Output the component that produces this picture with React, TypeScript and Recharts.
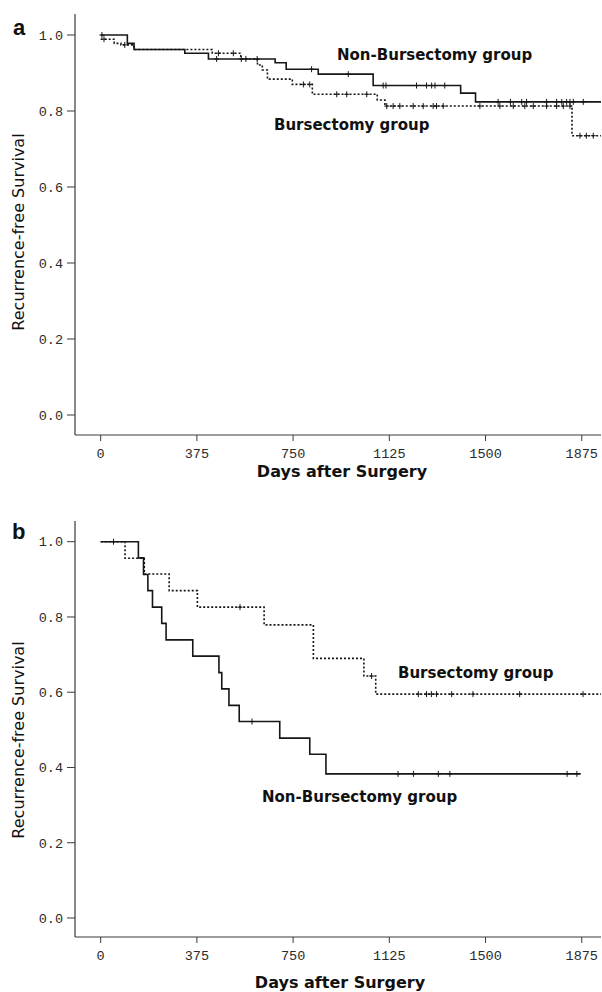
import React from 'react';
import { ComposedChart, Line, Scatter, XAxis, YAxis } from 'recharts';

// ---------- shared axis values ----------
const X_TICKS = [0, 375, 750, 1125, 1500, 1875];
const Y_TICKS = [0, 0.2, 0.4, 0.6, 0.8, 1.0];
const X_LABEL = 'Days after Surgery';
const Y_LABEL = 'Recurrence-free Survival';
const NON_NAME = 'Non-Bursectomy group';
const BUR_NAME = 'Bursectomy group';

// ---------- panel a ----------
const A_NON_DAYS = [0, 104, 130, 328, 420, 680, 723, 848, 1062, 1403, 1461, 1950];
const A_NON_SURV = [1.0, 0.978, 0.962, 0.952, 0.937, 0.927, 0.91, 0.897, 0.867, 0.847, 0.824, 0.824];
const A_NON_CENS_DAYS = [5, 452, 548, 610, 822, 965, 1101, 1112, 1231, 1270, 1290, 1303, 1341, 1549, 1597, 1641, 1660, 1738, 1777, 1797, 1816, 1829, 1842, 1881];
const A_NON_CENS_SURV = [1.0, 0.937, 0.937, 0.937, 0.91, 0.897, 0.867, 0.867, 0.867, 0.867, 0.867, 0.867, 0.867, 0.824, 0.824, 0.824, 0.824, 0.824, 0.824, 0.824, 0.824, 0.824, 0.824, 0.824];

const A_BUR_DAYS = [0, 53, 79, 130, 435, 546, 611, 630, 650, 747, 825, 1078, 1108, 1837, 1950];
const A_BUR_SURV = [0.989, 0.978, 0.974, 0.962, 0.952, 0.937, 0.921, 0.908, 0.884, 0.87, 0.844, 0.829, 0.813, 0.735, 0.735];
const A_BUR_CENS_DAYS = [13, 94, 459, 517, 566, 790, 815, 920, 959, 1037, 1115, 1140, 1166, 1218, 1257, 1296, 1309, 1335, 1478, 1556, 1608, 1653, 1686, 1738, 1777, 1803, 1829, 1868, 1893, 1920];
const A_BUR_CENS_SURV = [0.989, 0.974, 0.952, 0.952, 0.937, 0.87, 0.87, 0.844, 0.844, 0.844, 0.813, 0.813, 0.813, 0.813, 0.813, 0.813, 0.813, 0.813, 0.813, 0.813, 0.813, 0.813, 0.813, 0.813, 0.813, 0.813, 0.813, 0.735, 0.735, 0.735];

// ---------- panel b ----------
const B_NON_DAYS = [0, 147, 167, 184, 202, 238, 255, 359, 461, 472, 500, 540, 698, 815, 878, 1871];
const B_NON_SURV = [1.0, 0.957, 0.913, 0.87, 0.826, 0.783, 0.739, 0.696, 0.652, 0.609, 0.565, 0.522, 0.478, 0.435, 0.383, 0.383];
const B_NON_CENS_DAYS = [50, 590, 1159, 1219, 1316, 1361, 1818, 1856];
const B_NON_CENS_SURV = [1.0, 0.522, 0.383, 0.383, 0.383, 0.383, 0.383, 0.383];

const B_BUR_DAYS = [0, 95, 170, 267, 377, 637, 829, 1026, 1072, 1950];
const B_BUR_SURV = [1.0, 0.956, 0.914, 0.87, 0.826, 0.779, 0.69, 0.643, 0.595, 0.595];
const B_BUR_CENS_DAYS = [543, 1056, 1238, 1270, 1289, 1309, 1368, 1451, 1633, 1880];
const B_BUR_CENS_SURV = [0.826, 0.643, 0.595, 0.595, 0.595, 0.595, 0.595, 0.595, 0.595, 0.595];

const zip = (days: number[], surv: number[]) => days.map((t, i) => ({ t, s: surv[i] }));

const INK = '#161616';
const AXIS = '#3a3a3a';
const TICK_FONT = { fontFamily: '"Liberation Mono", "DejaVu Sans Mono", monospace', fontSize: 13.5, fill: '#2a2a2a' };

const Cross = (props: any) => {
  const { cx, cy } = props;
  if (cx == null || cy == null) return null;
  return (
    <g>
      <line x1={cx} x2={cx} y1={cy - 3} y2={cy + 3} stroke={INK} strokeWidth={1} />
      <line x1={cx - 2.5} x2={cx + 2.5} y1={cy} y2={cy} stroke={INK} strokeWidth={1} />
    </g>
  );
};

type PanelProps = {
  top: number;
  marginTop: number;
  xAxisHeight: number;
  yDomain: [number, number];
  non: { t: number; s: number }[];
  bur: { t: number; s: number }[];
  nonCens: { t: number; s: number }[];
  burCens: { t: number; s: number }[];
};

const Panel = ({ top, marginTop, xAxisHeight, yDomain, non, bur, nonCens, burCens }: PanelProps) => (
  <div style={{ position: 'absolute', left: 0, top }}>
    <ComposedChart
      width={602}
      height={480}
      margin={{ top: marginTop, right: 1, bottom: 0, left: 0 }}
    >
      <XAxis
        dataKey="t"
        type="number"
        domain={[-100, 1950]}
        ticks={X_TICKS}
        allowDataOverflow
        height={xAxisHeight}
        tick={TICK_FONT}
        tickSize={6}
        tickMargin={7}
        stroke={AXIS}
        tickLine={{ stroke: AXIS }}
        axisLine={{ stroke: AXIS, strokeWidth: 1.2 }}
      />
      <XAxis
        xAxisId="top"
        orientation="top"
        dataKey="t"
        type="number"
        domain={[-100, 1950]}
        allowDataOverflow
        height={0}
        tick={false}
        tickLine={false}
        axisLine={{ stroke: AXIS, strokeWidth: 1.2 }}
      />
      <YAxis
        dataKey="s"
        type="number"
        domain={yDomain}
        ticks={Y_TICKS}
        allowDataOverflow
        width={75}
        tick={TICK_FONT}
        tickFormatter={(v: number) => v.toFixed(1)}
        tickSize={8}
        tickMargin={4}
        stroke={AXIS}
        tickLine={{ stroke: AXIS }}
        axisLine={{ stroke: AXIS, strokeWidth: 1.2 }}
      />
      <Line
        data={bur}
        dataKey="s"
        type="stepAfter"
        stroke={INK}
        strokeWidth={1.6}
        strokeDasharray="2 2"
        dot={false}
        isAnimationActive={false}
      />
      <Line
        data={non}
        dataKey="s"
        type="stepAfter"
        stroke={INK}
        strokeWidth={1.6}
        dot={false}
        isAnimationActive={false}
      />
      <Scatter data={burCens} dataKey="s" shape={Cross} isAnimationActive={false} />
      <Scatter data={nonCens} dataKey="s" shape={Cross} isAnimationActive={false} />
    </ComposedChart>
  </div>
);

const LABEL_FONT = '"DejaVu Sans", Verdana, sans-serif';

export default function App() {
  return (
    <div style={{ position: 'absolute', left: 0, top: 0, width: 602, height: 992, background: '#fff', overflow: 'hidden' }}>
      <Panel
        top={0}
        marginTop={14}
        xAxisHeight={45}
        yDomain={[-0.0526, 1.0553]}
        non={zip(A_NON_DAYS, A_NON_SURV)}
        bur={zip(A_BUR_DAYS, A_BUR_SURV)}
        nonCens={zip(A_NON_CENS_DAYS, A_NON_CENS_SURV)}
        burCens={zip(A_BUR_CENS_DAYS, A_BUR_CENS_SURV)}
      />
      <Panel
        top={500}
        marginTop={21}
        xAxisHeight={43}
        yDomain={[-0.0505, 1.055]}
        non={zip(B_NON_DAYS, B_NON_SURV)}
        bur={zip(B_BUR_DAYS, B_BUR_SURV)}
        nonCens={zip(B_NON_CENS_DAYS, B_NON_CENS_SURV)}
        burCens={zip(B_BUR_CENS_DAYS, B_BUR_CENS_SURV)}
      />
      <svg width={602} height={992} style={{ position: 'absolute', left: 0, top: 0, pointerEvents: 'none' }}>
        <text x={13} y={27} dominantBaseline="central" fontFamily="Liberation Sans, Arial, sans-serif" fontWeight={700} fontSize={22} fill="#111">a</text>
        <text x={12} y={531} dominantBaseline="central" fontFamily="Liberation Sans, Arial, sans-serif" fontWeight={700} fontSize={22} fill="#111">b</text>

        <text x={18} y={232} transform="rotate(-90, 18, 232)" textAnchor="middle" dominantBaseline="central" fontFamily={LABEL_FONT} fontSize={16} fill="#111">{Y_LABEL}</text>
        <text x={18} y={740} transform="rotate(-90, 18, 740)" textAnchor="middle" dominantBaseline="central" fontFamily={LABEL_FONT} fontSize={16} fill="#111">{Y_LABEL}</text>

        <text x={342} y={471} textAnchor="middle" dominantBaseline="central" fontFamily={LABEL_FONT} fontWeight={700} fontSize={16} fill="#111">{X_LABEL}</text>
        <text x={340} y={982} textAnchor="middle" dominantBaseline="central" fontFamily={LABEL_FONT} fontWeight={700} fontSize={16} fill="#111">{X_LABEL}</text>

        <text x={337} y={55} dominantBaseline="central" fontFamily={LABEL_FONT} fontWeight={700} fontSize={15} fill="#111">{NON_NAME}</text>
        <text x={274} y={125} dominantBaseline="central" fontFamily={LABEL_FONT} fontWeight={700} fontSize={15} fill="#111">{BUR_NAME}</text>
        <text x={398} y={673} dominantBaseline="central" fontFamily={LABEL_FONT} fontWeight={700} fontSize={15} fill="#111">{BUR_NAME}</text>
        <text x={262} y={797} dominantBaseline="central" fontFamily={LABEL_FONT} fontWeight={700} fontSize={15} fill="#111">{NON_NAME}</text>
      </svg>
    </div>
  );
}
